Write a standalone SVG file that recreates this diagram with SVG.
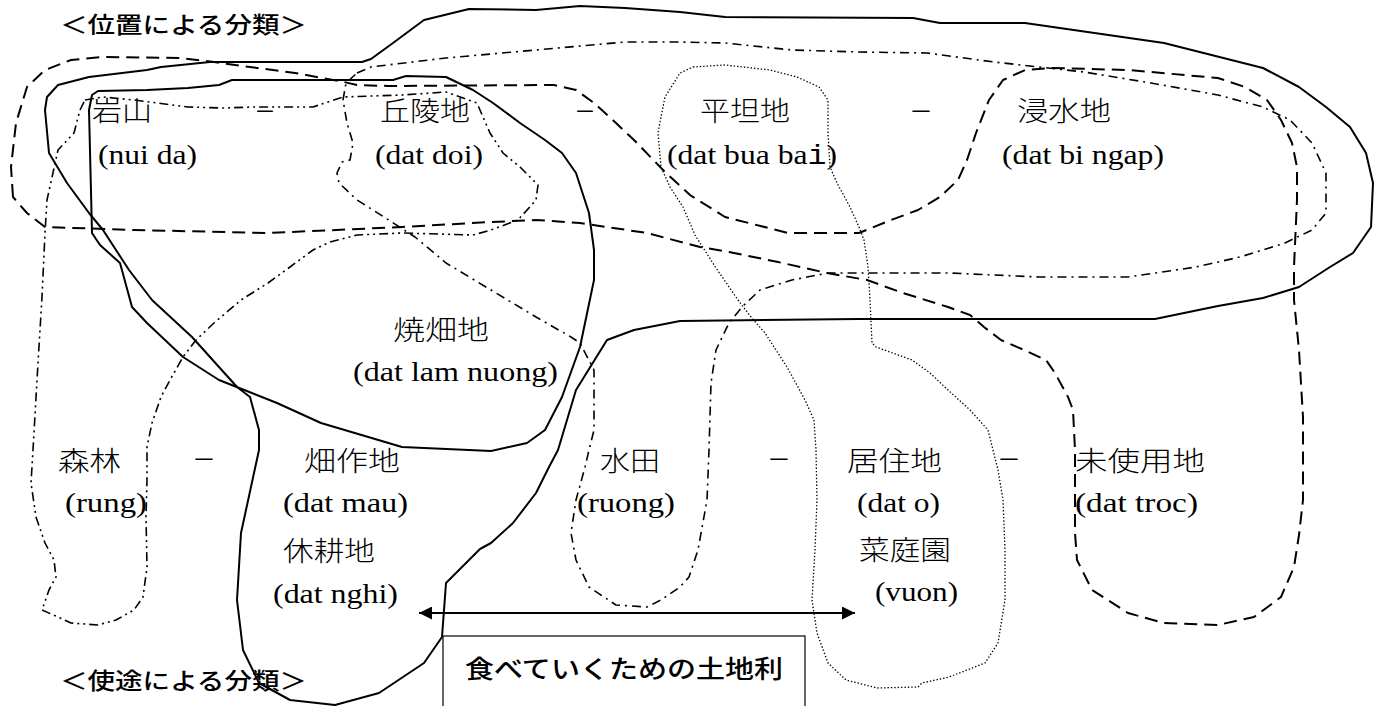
<svg xmlns="http://www.w3.org/2000/svg" width="1383" height="706" viewBox="0 0 1383 706">
<defs>
<style>
.ln{fill:none;stroke:#000;stroke-linejoin:round;stroke-linecap:butt}
.solid{stroke-width:2}
.dash{stroke-width:2;stroke-dasharray:13 7}
.dashdot{stroke-width:1.6;stroke-dasharray:9 5 2 5}
.dashdotdot{stroke-width:1.6;stroke-dasharray:9 4 2 4 2 4}
.dot{stroke-width:1.3;stroke-dasharray:1.4 2}
.jp{font-family:Noto Sans CJK JP,Noto Sans CJK SC,sans-serif;font-size:27px;font-weight:300;fill:#000}
.hd{font-family:Noto Sans CJK JP,Noto Sans CJK SC,sans-serif;font-size:23px;font-weight:500;fill:#000}
.bx{font-family:Noto Sans CJK JP,Noto Sans CJK SC,sans-serif;font-size:25px;font-weight:500;fill:#000}
.lt{font-size:27px;fill:#000}
</style>
<marker id="ah" viewBox="0 0 10 10" refX="10" refY="5" markerWidth="15" markerHeight="13" markerUnits="userSpaceOnUse" orient="auto-start-reverse"><path d="M0,0 L10,5 L0,10 Z" fill="#000"/></marker>
</defs>
<rect width="1383" height="706" fill="#fff"/>
<g id="connectors">
<path id="loop-hatasaku" class="ln solid" d="M49,153 L45,110 L47,97 L58,85 L89,77 L147,70 L161,67 L210,62 L362,62 L371,59 L393,43 L424,20 L469,9 L536,10 L580,6 L625,8 L680,12 L725,17 L913,18 L940,23 L1025,23 L1164,43 L1263,68 L1299,87 L1326,107 L1350,127 L1366,153 L1373,183 L1371,227 L1353,253 L1330,267 L1299,287 L1263,298 L1218,306 L1155,319 L859,319 L680,321 L634,330 L607,340 L576,390 L558,450 L549,467 L536,493 L513,523 L491,543 L480,549 L469,560 L446,583 L442,637 L424,663 L379,693 L335,705 L290,700 L259,683 L243,650 L237,600 L241,533 L259,450 L259,430 L250,397 L237,387 L192,337 L152,300 L129,270 L103,230 L89,213 L67,183 Z"/>
<path id="loop-yakihata" class="ln solid" d="M89,110 L92,95 L98,91 L147,90 L188,88 L219,85 L232,80 L393,80 L406,76 L446,77 L473,90 L493,103 L520,123 L545,140 L562,153 L576,173 L589,213 L594,250 L594,280 L580,347 L562,397 L545,430 L527,443 L491,451 L402,447 L321,423 L277,403 L219,380 L183,357 L147,323 L132,307 L120,263 L100,245 L92,233 Z"/>
<path id="loop-mishiyo" class="ln dash" d="M13,197 L11,167 L16,123 L27,87 L45,70 L71,60 L103,57 L179,58 L214,62 L250,67 L295,73 L344,82 L357,85 L388,86 L554,85 L576,90 L594,103 L616,123 L634,140 L665,172 L690,195 L725,217 L788,233 L859,233 L891,220 L918,210 L940,197 L958,180 L967,160 L976,133 L989,100 L1003,80 L1025,70 L1052,68 L1128,70 L1218,78 L1245,87 L1267,100 L1281,120 L1292,143 L1297,167 L1297,200 L1294,267 L1294,300 L1299,350 L1303,417 L1303,500 L1299,535 L1294,567 L1281,597 L1254,617 L1218,625 L1164,623 L1128,613 L1092,590 L1077,560 L1075,533 L1075,450 L1073,410 L1068,397 L1055,373 L1046,360 L1024,350 L1001,340 L984,327 L970,315 L948,307 L903,293 L867,280 L827,273 L778,262 L729,252 L700,247 L647,233 L580,223 L536,220 L491,222 L402,227 L268,233 L134,230 L45,227 L27,213 Z"/>
<path id="loop-suiden" class="ln dashdot" d="M357,73 L371,67 L446,58 L536,50 L625,42 L680,42 L725,43 L792,50 L859,52 L927,53 L994,62 L1084,72 L1151,83 L1218,95 L1263,107 L1290,120 L1312,143 L1326,173 L1326,213 L1312,230 L1285,243 L1240,257 L1196,267 L1128,277 L1039,277 L949,273 L868,273 L828,273 L792,280 L760,290 L742,307 L729,323 L716,350 L711,383 L709,450 L707,500 L698,550 L689,577 L680,587 L661,600 L647,607 L616,605 L589,587 L576,560 L571,533 L576,500 L585,467 L589,450 L594,430 L594,370 L580,343 L571,337 L536,317 L491,290 L446,263 L415,237 L384,217 L357,200 L339,183 L337,173 L342,162 L350,160 L353,143 L347,123 L343,100 L346,83 Z"/>
<path id="loop-shinrin" class="ln dashdotdot" d="M85,100 L103,97 L134,100 L188,107 L223,108 L254,107 L313,107 L343,97 L402,95 L446,92 L477,103 L483,117 L490,133 L503,153 L520,167 L538,185 L536,200 L518,220 L491,230 L473,235 L402,233 L357,235 L330,242 L313,250 L290,267 L268,283 L241,300 L214,323 L196,340 L183,357 L170,380 L161,397 L152,423 L147,447 L147,480 L146,517 L147,567 L143,597 L134,610 L116,620 L98,625 L71,623 L58,617 L42,610 L49,590 L56,577 L54,560 L45,543 L36,517 L31,483 L33,450 L38,363 L42,297 L45,233 L47,200 L58,150 L74,133 L80,110 Z"/>
<path id="loop-kyoju" class="ln dot" d="M693,67 L725,65 L770,70 L797,77 L819,87 L828,100 L828,133 L830,167 L837,183 L850,207 L859,227 L864,240 L868,267 L870,300 L872,343 L876,347 L912,360 L930,373 L948,390 L970,410 L988,430 L993,450 L998,470 L1003,500 L1005,550 L1005,600 L998,643 L985,663 L949,677 L922,683 L918,687 L877,688 L846,680 L828,663 L817,633 L812,600 L815,550 L817,500 L816,450 L814,420 L805,400 L787,367 L765,333 L751,317 L738,300 L716,268 L695,235 L683,207 L670,187 L661,167 L658,133 L661,117 L665,97 L680,73 Z"/>
<line id="arrow" x1="419" y1="613" x2="855" y2="613" stroke="#000" stroke-width="2" marker-start="url(#ah)" marker-end="url(#ah)"/>
</g>
<g id="headers">
<text class="hd" x="60" y="33" textLength="247" lengthAdjust="spacingAndGlyphs">＜位置による分類＞</text>
<text class="hd" x="60" y="689" textLength="247" lengthAdjust="spacingAndGlyphs">＜使途による分類＞</text>
</g>
<g id="node-ganzan"><text class="jp" x="92" y="121" textLength="60" lengthAdjust="spacingAndGlyphs">岩山</text><text class="lt" font-family="Liberation Serif, serif" x="98" y="164" textLength="99" lengthAdjust="spacingAndGlyphs">(nui da)</text></g>
<g id="node-kyuryo"><text class="jp" x="380" y="121" textLength="90" lengthAdjust="spacingAndGlyphs">丘陵地</text><text class="lt" font-family="Liberation Serif, serif" x="375" y="164" textLength="108" lengthAdjust="spacingAndGlyphs">(dat doi)</text></g>
<g id="node-heitan"><text class="jp" x="700" y="121" textLength="90" lengthAdjust="spacingAndGlyphs">平坦地</text><text class="lt" font-family="Liberation Serif, serif" x="667" y="164" textLength="170" lengthAdjust="spacingAndGlyphs">(dat bua ba<tspan font-family="Liberation Mono, monospace">i</tspan>)</text></g>
<g id="node-shinsui"><text class="jp" x="1017" y="121" textLength="94" lengthAdjust="spacingAndGlyphs">浸水地</text><text class="lt" font-family="Liberation Serif, serif" x="1002" y="164" textLength="162" lengthAdjust="spacingAndGlyphs">(dat bi ngap)</text></g>
<g id="dashes-top">
<text class="jp" x="255" y="122" textLength="20" lengthAdjust="spacingAndGlyphs">ー</text>
<text class="jp" x="575" y="122" textLength="20" lengthAdjust="spacingAndGlyphs">ー</text>
<text class="jp" x="910" y="122" textLength="22" lengthAdjust="spacingAndGlyphs">ー</text>
</g>
<g id="node-yakihata"><text class="jp" x="393" y="340" textLength="96" lengthAdjust="spacingAndGlyphs">焼畑地</text><text class="lt" font-family="Liberation Serif, serif" x="353" y="381" textLength="205" lengthAdjust="spacingAndGlyphs">(dat lam nuong)</text></g>
<g id="node-shinrin"><text class="jp" x="58" y="471" textLength="63" lengthAdjust="spacingAndGlyphs">森林</text><text class="lt" font-family="Liberation Serif, serif" x="65" y="512" textLength="82" lengthAdjust="spacingAndGlyphs">(rung)</text></g>
<g id="node-hatasaku"><text class="jp" x="304" y="471" textLength="96" lengthAdjust="spacingAndGlyphs">畑作地</text><text class="lt" font-family="Liberation Serif, serif" x="283" y="512" textLength="125" lengthAdjust="spacingAndGlyphs">(dat mau)</text><text class="jp" x="283" y="561" textLength="92" lengthAdjust="spacingAndGlyphs">休耕地</text><text class="lt" font-family="Liberation Serif, serif" x="273" y="603" textLength="125" lengthAdjust="spacingAndGlyphs">(dat nghi)</text></g>
<g id="node-suiden"><text class="jp" x="600" y="471" textLength="60" lengthAdjust="spacingAndGlyphs">水田</text><text class="lt" font-family="Liberation Serif, serif" x="577" y="512" textLength="98" lengthAdjust="spacingAndGlyphs">(ruong)</text></g>
<g id="node-kyoju"><text class="jp" x="847" y="471" textLength="95" lengthAdjust="spacingAndGlyphs">居住地</text><text class="lt" font-family="Liberation Serif, serif" x="857" y="512" textLength="83" lengthAdjust="spacingAndGlyphs">(dat o)</text><text class="jp" x="859" y="560" textLength="92" lengthAdjust="spacingAndGlyphs">菜庭園</text><text class="lt" font-family="Liberation Serif, serif" x="875" y="601" textLength="83" lengthAdjust="spacingAndGlyphs">(vuon)</text></g>
<g id="node-mishiyo"><text class="jp" x="1075" y="471" textLength="130" lengthAdjust="spacingAndGlyphs">未使用地</text><text class="lt" font-family="Liberation Serif, serif" x="1075" y="512" textLength="123" lengthAdjust="spacingAndGlyphs">(dat troc)</text></g>
<g id="dashes-bottom">
<text class="jp" x="193" y="470" textLength="22" lengthAdjust="spacingAndGlyphs">ー</text>
<text class="jp" x="768" y="470" textLength="22" lengthAdjust="spacingAndGlyphs">ー</text>
<text class="jp" x="998" y="470" textLength="22" lengthAdjust="spacingAndGlyphs">ー</text>
</g>
<g id="node-box">
<rect x="443" y="636" width="362" height="80" fill="#fff" stroke="#000" stroke-width="1.2"/>
<text class="bx" x="465" y="678" textLength="318" lengthAdjust="spacingAndGlyphs">食べていくための土地利</text>
</g>
</svg>
